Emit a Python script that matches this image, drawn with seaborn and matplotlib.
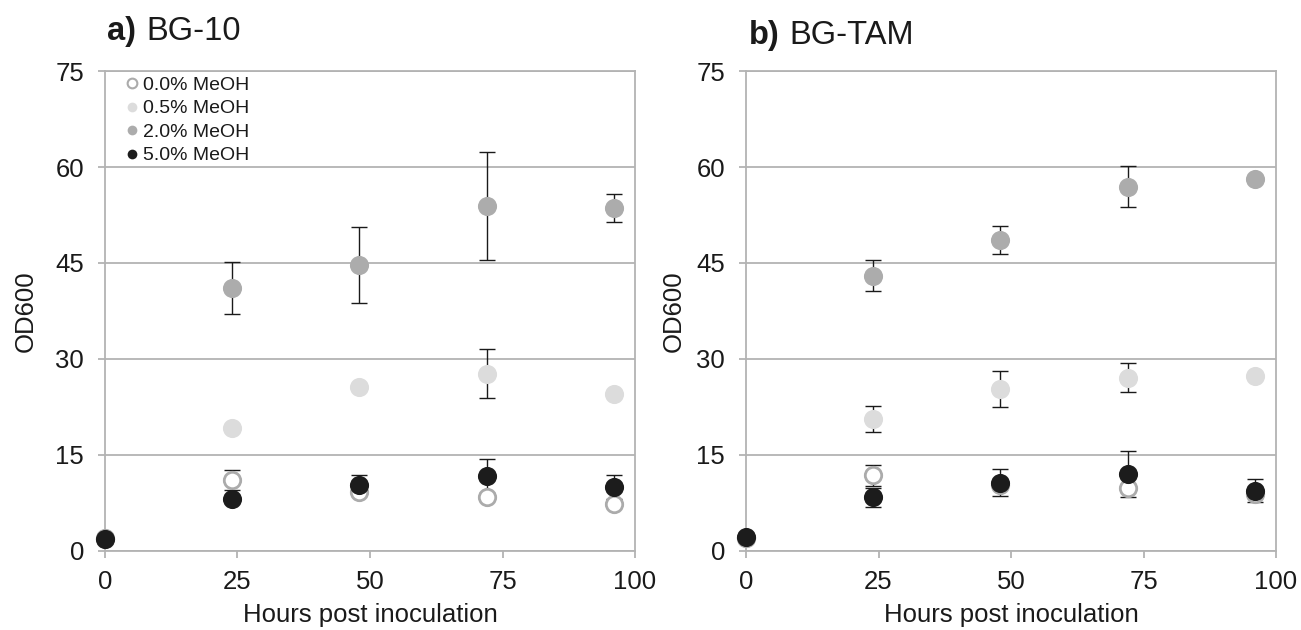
import numpy as np
import pandas as pd
import matplotlib
matplotlib.use("Agg")
import matplotlib.pyplot as plt
import seaborn as sns
from matplotlib.lines import Line2D

sns.set_theme(style="white")
plt.rcParams['font.family'] = ['Liberation Sans', 'DejaVu Sans']

hours = [0, 24, 48, 72, 96]
series_names = ["0.0% MeOH", "0.5% MeOH", "2.0% MeOH", "5.0% MeOH"]

# Panel a) BG-10
a_00 = [1.8, 11.1, 9.2, 8.4, 7.4]
a_05 = [2.0, 19.2, 25.6, 27.7, 24.5]
a_20 = [2.0, 41.1, 44.7, 53.9, 53.6]
a_50 = [1.9, 8.1, 10.3, 11.7, 9.95]
a_00_err = [0, 1.6, 0, 0, 0]
a_05_err = [0, 0, 0, 3.8, 0]
a_20_err = [0, 4.0, 6.0, 8.4, 2.2]
a_50_err = [0, 0, 1.5, 2.6, 1.85]

# Panel b) BG-TAM
b_00 = [2.0, 11.8, 10.3, 9.8, 8.85]
b_05 = [2.1, 20.6, 25.3, 27.1, 27.3]
b_20 = [2.1, 43.0, 48.6, 56.9, 58.1]
b_50 = [2.2, 8.4, 10.7, 12.0, 9.4]
b_00_err = [0, 1.7, 0, 0, 0]
b_05_err = [0, 2.0, 2.8, 2.2, 0]
b_20_err = [0, 2.4, 2.2, 3.2, 0]
b_50_err = [0, 1.5, 2.1, 3.6, 1.8]

x_ticks = [0, 25, 50, 75, 100]
y_ticks = [0, 15, 30, 45, 60, 75]

styles = {
    "0.0% MeOH": dict(face="white", edge="#ababab", lw=2.0, s=140),
    "0.5% MeOH": dict(face="#dcdcdc", edge="#dcdcdc", lw=0, s=190),
    "2.0% MeOH": dict(face="#acacac", edge="#acacac", lw=0, s=190),
    "5.0% MeOH": dict(face="#1c1c1c", edge="#1c1c1c", lw=0, s=190),
}

def make_df(vals, errs):
    rows = []
    for name, v, e in zip(series_names, vals, errs):
        for h, yv, ev in zip(hours, v, e):
            rows.append(dict(hours=h, od=yv, err=ev, series=name))
    return pd.DataFrame(rows)

df_a = make_df([a_00, a_05, a_20, a_50], [a_00_err, a_05_err, a_20_err, a_50_err])
df_b = make_df([b_00, b_05, b_20, b_50], [b_00_err, b_05_err, b_20_err, b_50_err])

fig = plt.figure(figsize=(13.01, 6.30), dpi=100)
ax1 = fig.add_axes([0.0807, 0.1254, 0.4074, 0.7619])
ax2 = fig.add_axes([0.5734, 0.1254, 0.4074, 0.7619])

grid_c = "#b3b3b3"
txt_c = "#1a1a1a"

def draw(ax, df, ylabelpad):
    for i, name in enumerate(series_names):
        d = df[df.series == name]
        de = d[d.err > 0]
        if len(de):
            ax.errorbar(de.hours, de.od, yerr=de.err, fmt="none", ecolor="#1a1a1a",
                        elinewidth=1.0, capsize=6, capthick=1.0, zorder=2)
        st = styles[name]
        sns.scatterplot(data=d, x="hours", y="od", ax=ax, s=st["s"], marker="o",
                        facecolor=st["face"], edgecolor=st["edge"], linewidth=st["lw"],
                        zorder=3 + i, legend=False, clip_on=False)
    ax.set_xlim(0, 100)
    ax.set_ylim(0, 75)
    ax.set_xticks(x_ticks)
    ax.set_yticks(y_ticks)
    ax.grid(axis="y", color=grid_c, linewidth=1.3, zorder=0)
    ax.set_axisbelow(True)
    for sp in ax.spines.values():
        sp.set_visible(True)
        sp.set_color(grid_c)
        sp.set_linewidth(1.3)
    ax.tick_params(axis="both", which="major", direction="out", color=grid_c, width=1.3,
                   labelsize=18.5, labelcolor=txt_c)
    ax.tick_params(axis="y", length=5, pad=10, left=True)
    ax.tick_params(axis="x", length=5, pad=9, bottom=True)
    ax.set_xlabel("Hours post inoculation", fontsize=18.5, color=txt_c, labelpad=6)
    ax.set_ylabel("OD600", fontsize=18.5, color=txt_c, labelpad=ylabelpad)

draw(ax1, df_a, 13)
draw(ax2, df_b, 8)

# titles
fig.text(107 / 1301, 1 - 40 / 630, "a)", fontsize=23.5, fontweight="bold", color=txt_c, va="baseline")
fig.text(146 / 1301, 1 - 40 / 630, "BG-10", fontsize=23.5, color=txt_c, va="baseline")
fig.text(749 / 1301, 1 - 44 / 630, "b)", fontsize=23.5, fontweight="bold", color=txt_c, va="baseline")
fig.text(789 / 1301, 1 - 44 / 630, "BG-TAM", fontsize=23.5, color=txt_c, va="baseline")

# legend
handles = []
for name in series_names:
    st = styles[name]
    handles.append(Line2D([], [], linestyle="none", marker="o", markersize=7,
                          markerfacecolor=st["face"], markeredgecolor=st["edge"],
                          markeredgewidth=1.5 if st["lw"] else 0))
ax1.legend(handles, series_names, loc="upper left", bbox_to_anchor=(0.028, 1.005),
           frameon=False, fontsize=14, handlelength=0.5, handletextpad=0.3,
           labelspacing=0.3, borderaxespad=0.0, labelcolor=txt_c)

fig.savefig("out.png", dpi=100, facecolor="white")
